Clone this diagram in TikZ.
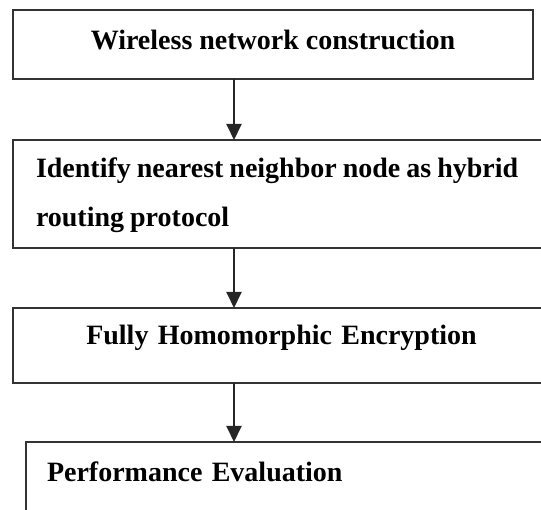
\documentclass[tikz,border=0pt]{standalone}
\usepackage{fontspec}
\setmainfont{Liberation Serif}
\usepackage{tikz}
\usetikzlibrary{arrows.meta}

\begin{document}
\begin{tikzpicture}[x=1pt,y=-1pt,
    stage/.style={draw=black!80, line width=2pt, anchor=north west, outer sep=0pt,
      inner ysep=0pt, font=\bfseries\fontsize{28}{49}\selectfont},
    flow/.style={draw=black!85, line width=2pt, -{Triangle[width=15pt,length=16pt]}}]
        \useasboundingbox (0,0) rectangle (541,510);
        \clip (0,0) rectangle (541,510);
        \node[stage, minimum width=520pt, text height=40pt, text depth=29pt]
          (wnc) at (13,10) {Wireless network construction};
        \node[stage, text width=520pt, inner xsep=23pt, align=left, text height=38pt, text depth=70pt]
          (nnr) at (13,140) {\spaceskip=6pt Identify nearest neighbor node as hybrid\\routing protocol};
        \node[stage, text width=491pt, inner xsep=23pt, align=center, text height=37pt, text depth=38pt]
          (fhe) at (13,308) {Fully Homomorphic Encryption};
        %% last box runs off the page
        \node[stage, text width=513pt, inner xsep=21pt, align=left, text height=40pt, text depth=78pt]
          (eval) at (26,442) {Performance Evaluation};
        \coordinate (spine) at (234,0);
        \draw[flow] (wnc.south -| spine) -- (nnr.north -| spine);
        \draw[flow] (nnr.south -| spine) -- (fhe.north -| spine);
        \draw[flow] (fhe.south -| spine) -- (eval.north -| spine);
      \end{tikzpicture}
\end{document}
